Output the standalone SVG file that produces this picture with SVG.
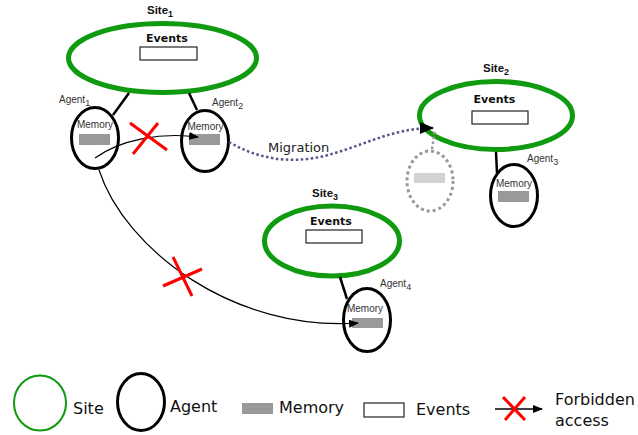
<svg xmlns="http://www.w3.org/2000/svg" width="638" height="435" viewBox="0 0 638 435">
<defs>
<marker id="ah" markerUnits="userSpaceOnUse" markerWidth="10" markerHeight="8" refX="9" refY="4" orient="auto"><path d="M0,0 L10,4 L0,8 z" fill="#000"/></marker>
<marker id="ahBig" markerUnits="userSpaceOnUse" markerWidth="14" markerHeight="12" refX="13" refY="6" orient="auto"><path d="M0,0 L14,6 L0,12 z" fill="#000"/></marker>
<style>
.site{fill:#fff;stroke:#109a10;stroke-width:5}
.agent{fill:#fff;stroke:#000;stroke-width:3}
.ghost{fill:none;stroke:#999;stroke-width:3;stroke-dasharray:3 3}
.mem{fill:#999}
.ev{fill:#fff;stroke:#222;stroke-width:1.2}
.link{stroke:#000;stroke-width:2.5}
.x{stroke:#ff0000;stroke-width:3}
.lbl{font-family:"Liberation Sans",Arial,sans-serif;font-size:10px;fill:#333}
.sl{font-family:"Liberation Sans",Arial,sans-serif;font-size:11.5px;font-weight:bold;fill:#111}
.evt{font-family:"DejaVu Sans",sans-serif;font-size:11px;font-weight:bold;fill:#111;text-anchor:middle}
.leg{font-family:"DejaVu Sans",sans-serif;font-size:16px;fill:#111}
.sub{font-size:9px}
</style>
</defs>
<g id="site1">
<ellipse class="site" cx="162.5" cy="58" rx="94" ry="34.5"/>
<text class="evt" x="167" y="42">Events</text>
<rect class="ev" x="140" y="47" width="57" height="13"/>
<text class="sl" x="147" y="14">Site<tspan class="sub" dy="3">1</tspan></text>
</g>
<g id="site2">
<ellipse class="site" cx="496" cy="115.5" rx="76.5" ry="34"/>
<text class="evt" x="494.5" y="103">Events</text>
<rect class="ev" x="472" y="111" width="56" height="13"/>
<text class="sl" x="483" y="72">Site<tspan class="sub" dy="3">2</tspan></text>
</g>
<g id="site3">
<ellipse class="site" cx="332" cy="241" rx="67.5" ry="35"/>
<text class="evt" x="331" y="225">Events</text>
<rect class="ev" x="306" y="230" width="56" height="13"/>
<text class="sl" x="312" y="197">Site<tspan class="sub" dy="3">3</tspan></text>
</g>
<g id="connectors">
<line class="link" x1="129" y1="93" x2="113" y2="115"/>
<line class="link" x1="189" y1="93" x2="197" y2="110"/>
<line class="link" x1="496" y1="152" x2="497" y2="173"/>
<line class="link" x1="340" y1="277" x2="347" y2="299"/>
</g>
<g id="agent1">
<ellipse class="agent" cx="95" cy="138" rx="23.5" ry="30.5"/>
<text class="lbl" x="95" y="128" text-anchor="middle">Memory</text>
<rect class="mem" x="79" y="134" width="31" height="11"/>
<text class="lbl" x="59" y="103">Agent<tspan class="sub" dy="3">1</tspan></text>
</g>
<g id="agent2">
<ellipse class="agent" cx="205" cy="141" rx="23.5" ry="30.5"/>
<text class="lbl" x="205.5" y="130" text-anchor="middle">Memory</text>
<rect class="mem" x="189" y="134" width="31" height="11"/>
<text class="lbl" x="212" y="106">Agent<tspan class="sub" dy="3">2</tspan></text>
</g>
<g id="agent3">
<ellipse class="agent" cx="514" cy="195.5" rx="23.5" ry="31"/>
<text class="lbl" x="514" y="187" text-anchor="middle">Memory</text>
<rect class="mem" x="498" y="191" width="31" height="11"/>
<text class="lbl" x="527" y="162">Agent<tspan class="sub" dy="3">3</tspan></text>
</g>
<g id="agent4">
<ellipse class="agent" cx="367" cy="320" rx="23.5" ry="31.5"/>
<text class="lbl" x="365" y="312" text-anchor="middle">Memory</text>
<rect class="mem" x="352" y="318" width="31" height="10"/>
<text class="lbl" x="380" y="287">Agent<tspan class="sub" dy="3">4</tspan></text>
</g>
<g id="ghost-agent">
<ellipse class="ghost" cx="430" cy="181" rx="23" ry="30"/>
<rect x="414" y="173" width="31" height="10" fill="#d3d3d3"/>
</g>
<g id="arrows">
<path d="M95,158 C120,140 160,132 198,137" fill="none" stroke="#000" stroke-width="1.2" marker-end="url(#ah)"/>
<path d="M99,170 C125,250 235,332 358,323" fill="none" stroke="#000" stroke-width="1.2" marker-end="url(#ah)"/>
<path d="M229,142 C260,160 290,163 320,157 C360,148 390,128 433,128" fill="none" stroke="#555588" stroke-width="2.5" stroke-dasharray="2.5 2.5" marker-end="url(#ahBig)"/>
<line x1="432" y1="149" x2="435" y2="130" stroke="#999" stroke-width="2.5" stroke-dasharray="2.5 2.5"/>
<text x="268" y="152" font-family="DejaVu Sans,sans-serif" font-size="13" fill="#222">Migration</text>
<line class="x" x1="130" y1="123" x2="167" y2="150"/>
<line class="x" x1="158" y1="123" x2="133" y2="154"/>
<line class="x" x1="173" y1="257" x2="192" y2="296"/>
<line class="x" x1="163" y1="286" x2="202" y2="269"/>
</g>
<g id="legend">
<ellipse cx="40" cy="403" rx="26" ry="27.5" fill="none" stroke="#109a10" stroke-width="2"/>
<text class="leg" x="73" y="414">Site</text>
<ellipse cx="141" cy="402" rx="23.5" ry="28.5" fill="none" stroke="#000" stroke-width="3"/>
<text class="leg" x="170" y="412">Agent</text>
<rect class="mem" x="242" y="403" width="31" height="11"/>
<text class="leg" x="279" y="413">Memory</text>
<rect class="ev" x="364" y="403" width="40" height="14"/>
<text class="leg" x="416" y="415">Events</text>
<line x1="495" y1="409" x2="542" y2="409" stroke="#000" stroke-width="1.5" marker-end="url(#ah)"/>
<line class="x" x1="503" y1="397" x2="525" y2="420"/>
<line class="x" x1="525" y1="397" x2="505" y2="420"/>
<text class="leg" x="555" y="405">Forbidden</text>
<text class="leg" x="555" y="426">access</text>
</g>
</svg>
